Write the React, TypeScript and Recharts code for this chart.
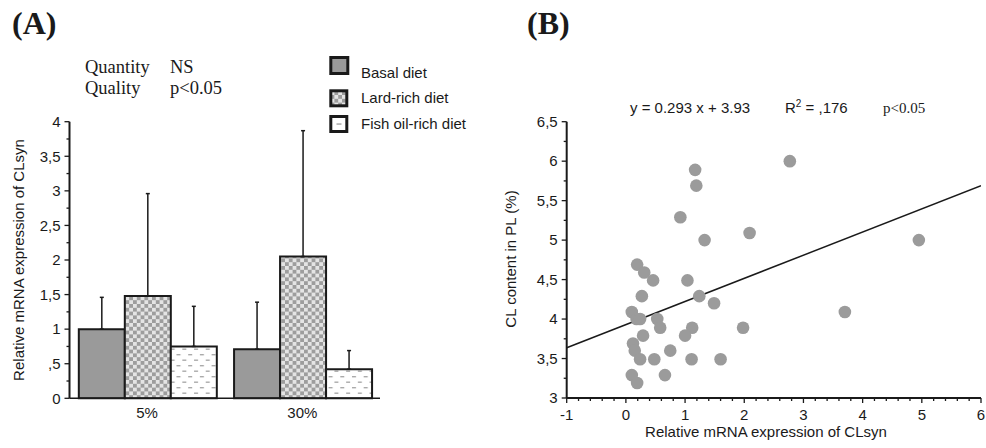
import React from "react";
import {
  BarChart,
  Bar,
  XAxis,
  YAxis,
  ErrorBar,
  ScatterChart,
  Scatter,
} from "recharts";

// ---------- Panel A data ----------
const categories = ["5%", "30%"];
const basalMean = [1.0, 0.71];
const basalSD = [0.46, 0.68];
const lardMean = [1.48, 2.05];
const lardSD = [1.48, 1.82];
const fishMean = [0.75, 0.42];
const fishSD = [0.58, 0.27];

const barMajorTicks = [0, 0.5, 1, 1.5, 2, 2.5, 3, 3.5, 4];
const barMajorLabels = ["0", ",5", "1", "1,5", "2", "2,5", "3", "3,5", "4"];
const barMinorTicks = [0.25, 0.75, 1.25, 1.75, 2.25, 2.75, 3.25, 3.75];

const legendLabels = ["Basal diet", "Lard-rich diet", "Fish oil-rich diet"];

// ---------- Panel B data ----------
const scatterX = [
  2.77, 1.17, 1.19, 0.92, 1.33, 2.09, 0.19, 0.31, 0.46, 1.04, 0.27, 1.24,
  1.49, 0.1, 0.18, 0.24, 0.53, 0.58, 1.12, 1.0, 1.98, 0.29, 0.12, 0.15, 0.24,
  0.48, 0.75, 1.11, 1.6, 0.1, 0.19, 0.66, 3.7, 4.95,
];
const scatterY = [
  6.0, 5.89, 5.69, 5.29, 5.0, 5.09, 4.69, 4.59, 4.49, 4.49, 4.29, 4.29, 4.2,
  4.09, 4.0, 4.0, 4.0, 3.89, 3.89, 3.79, 3.89, 3.79, 3.69, 3.6, 3.49, 3.49,
  3.6, 3.49, 3.49, 3.29, 3.19, 3.29, 4.09, 5.0,
];
const slope = 0.293;
const intercept = 3.93;

const xMajorTicks = [-1, 0, 1, 2, 3, 4, 5, 6];
const xMajorLabels = ["-1", "0", "1", "2", "3", "4", "5", "6"];
const xMinorTicks = [
  -0.8, -0.6, -0.4, -0.2, 0.2, 0.4, 0.6, 0.8, 1.2, 1.4, 1.6, 1.8, 2.2, 2.4,
  2.6, 2.8, 3.2, 3.4, 3.6, 3.8, 4.2, 4.4, 4.6, 4.8, 5.2, 5.4, 5.6, 5.8,
];
const yMajorTicks = [3, 3.5, 4, 4.5, 5, 5.5, 6, 6.5];
const yMajorLabels = ["3", "3,5", "4", "4,5", "5", "5,5", "6", "6,5"];
const yMinorTicks = [3.25, 3.75, 4.25, 4.75, 5.25, 5.75, 6.25];

// ---------- styling ----------
const SANS = "'Liberation Sans', Arial, sans-serif";
const SERIF = "'Liberation Serif', 'Times New Roman', serif";
const INK = "#1a1a1a";

const barData = categories.map((c, i) => ({
  cat: c,
  basal: basalMean[i],
  basalErr: [0, basalSD[i]],
  lard: lardMean[i],
  lardErr: [0, lardSD[i]],
  fish: fishMean[i],
  fishErr: [0, fishSD[i]],
}));

const scatterData = scatterX.map((x, i) => ({ x, y: scatterY[i] }));
const lineData = [
  { x: -1, y: intercept + slope * -1 },
  { x: 6, y: intercept + slope * 6 },
];

const makeYTick =
  (majors: number[], labels: string[], majorLen: number, minorLen: number) =>
  (props: any) => {
    const { x, y, payload } = props;
    const i = majors.indexOf(payload.value);
    const major = i >= 0;
    return (
      <g>
        <line
          x1={x}
          x2={x - (major ? majorLen : minorLen)}
          y1={y}
          y2={y}
          stroke={INK}
          strokeWidth={1.3}
        />
        {major && (
          <text
            x={x - majorLen - 4}
            y={y}
            dy="0.35em"
            textAnchor="end"
            fontSize={15}
            fontFamily={SANS}
            fill={INK}
          >
            {labels[i]}
          </text>
        )}
      </g>
    );
  };

const makeXTick =
  (majors: number[], labels: string[], majorLen: number, minorLen: number) =>
  (props: any) => {
    const { x, y, payload } = props;
    const i = majors.indexOf(payload.value);
    const major = i >= 0;
    return (
      <g>
        <line
          x1={x}
          x2={x}
          y1={y}
          y2={y + (major ? majorLen : minorLen)}
          stroke={INK}
          strokeWidth={1.3}
        />
        {major && (
          <text
            x={x}
            y={y + 22}
            textAnchor="middle"
            fontSize={15}
            fontFamily={SANS}
            fill={INK}
          >
            {labels[i]}
          </text>
        )}
      </g>
    );
  };

const CatTick = (props: any) => {
  const { x, y, payload } = props;
  return (
    <text
      x={x}
      y={y + 20}
      textAnchor="middle"
      fontSize={15}
      fontFamily={SANS}
      fill={INK}
    >
      {payload.value}
    </text>
  );
};

const Dot = (p: any) => <circle cx={p.cx} cy={p.cy} r={6.3} fill="#9b9b9b" />;
const NoDot = () => <g />;

const Patterns = () => (
  <svg width={0} height={0} style={{ position: "absolute" }}>
    <defs>
      <pattern id="checker" width={7.6} height={7.6} patternUnits="userSpaceOnUse">
        <rect width={7.6} height={7.6} fill="#e4e4e4" />
        <rect x={0} y={0} width={3.8} height={3.8} fill="#9d9d9d" />
        <rect x={3.8} y={3.8} width={3.8} height={3.8} fill="#9d9d9d" />
      </pattern>
      <pattern id="dashes" width={11.7} height={11} patternUnits="userSpaceOnUse">
        <rect width={11.7} height={11} fill="#ffffff" />
        <rect x={1} y={2} width={4} height={1.4} fill="#aaaaaa" />
        <rect x={6.85} y={7.5} width={4} height={1.4} fill="#aaaaaa" />
      </pattern>
    </defs>
  </svg>
);

export default function App() {
  return (
    <div
      style={{
        position: "absolute",
        left: 0,
        top: 0,
        width: 986,
        height: 448,
        background: "#ffffff",
        overflow: "hidden",
      }}
    >
      <Patterns />
      {/* Panel A */}
      <div style={{ position: "absolute", left: 0, top: 0 }}>
        <BarChart
          width={400}
          height={448}
          data={barData}
          margin={{ top: 121.7, right: 20, bottom: 19.7, left: 0 }}
          barGap={0}
          barCategoryGap="6%"
        >
          <XAxis
            dataKey="cat"
            height={30}
            tickLine={false}
            tickSize={0}
            tickMargin={0}
            tick={<CatTick />}
            axisLine={{ stroke: INK, strokeWidth: 1.6 }}
          />
          <YAxis
            type="number"
            domain={[0, 4]}
            width={69.5}
            ticks={[...barMajorTicks, ...barMinorTicks].sort((a, b) => a - b)}
            interval={0}
            tickLine={false}
            tickSize={0}
            tickMargin={0}
            tick={makeYTick(barMajorTicks, barMajorLabels, 5, 3)}
            axisLine={{ stroke: INK, strokeWidth: 2 }}
          />
          <Bar dataKey="basal" fill="#9a9a9a" stroke={INK} strokeWidth={2} isAnimationActive={false}>
            <ErrorBar dataKey="basalErr" width={2} stroke={INK} strokeWidth={1.5} direction="y" />
          </Bar>
          <Bar dataKey="lard" fill="url(#checker)" stroke={INK} strokeWidth={2} isAnimationActive={false}>
            <ErrorBar dataKey="lardErr" width={2} stroke={INK} strokeWidth={1.5} direction="y" />
          </Bar>
          <Bar dataKey="fish" fill="url(#dashes)" stroke={INK} strokeWidth={2} isAnimationActive={false}>
            <ErrorBar dataKey="fishErr" width={2} stroke={INK} strokeWidth={1.5} direction="y" />
          </Bar>
        </BarChart>
      </div>

      {/* Panel B */}
      <div style={{ position: "absolute", left: 480, top: 0 }}>
        <ScatterChart
          width={506}
          height={448}
          margin={{ top: 121.7, right: 5, bottom: 20, left: 0 }}
        >
          <XAxis
            type="number"
            dataKey="x"
            domain={[-1, 6]}
            height={30}
            ticks={[...xMajorTicks, ...xMinorTicks].sort((a, b) => a - b)}
            interval={0}
            tickLine={false}
            tickSize={0}
            tickMargin={0}
            tick={makeXTick(xMajorTicks, xMajorLabels, 5, 3)}
            axisLine={{ stroke: INK, strokeWidth: 2 }}
            allowDataOverflow
          />
          <YAxis
            type="number"
            dataKey="y"
            domain={[3, 6.5]}
            width={86.7}
            ticks={[...yMajorTicks, ...yMinorTicks].sort((a, b) => a - b)}
            interval={0}
            tickLine={false}
            tickSize={0}
            tickMargin={0}
            tick={makeYTick(yMajorTicks, yMajorLabels, 5, 3)}
            axisLine={{ stroke: INK, strokeWidth: 2 }}
            allowDataOverflow
          />
          <Scatter
            data={lineData}
            line={{ stroke: INK, strokeWidth: 1.5 }}
            shape={<NoDot />}
            isAnimationActive={false}
          />
          <Scatter data={scatterData} shape={<Dot />} isAnimationActive={false} />
        </ScatterChart>
      </div>

      {/* Text overlay */}
      <svg
        width={986}
        height={448}
        style={{ position: "absolute", left: 0, top: 0, pointerEvents: "none" }}
      >
        <text x={12} y={34} fontFamily={SERIF} fontWeight="bold" fontSize={32} fill={INK}>
          (A)
        </text>
        <text x={527} y={34} fontFamily={SERIF} fontWeight="bold" fontSize={32} fill={INK}>
          (B)
        </text>

        <text x={85} y={73} fontFamily={SERIF} fontSize={18.5} fill={INK}>Quantity</text>
        <text x={170} y={73} fontFamily={SERIF} fontSize={18.5} fill={INK}>NS</text>
        <text x={85} y={94} fontFamily={SERIF} fontSize={18.5} fill={INK}>Quality</text>
        <text x={170} y={94} fontFamily={SERIF} fontSize={18.5} fill={INK}>p&lt;0.05</text>

        {/* legend */}
        <rect x={330.8} y={57.5} width={17} height={16} fill="#9a9a9a" stroke={INK} strokeWidth={3} />
        <text x={361} y={78.3} fontFamily={SANS} fontSize={15} fill={INK}>{legendLabels[0]}</text>
        <rect x={330.8} y={90.8} width={16} height={15} fill="url(#checker)" stroke={INK} strokeWidth={3} />
        <text x={361} y={103.3} fontFamily={SANS} fontSize={15} fill={INK}>{legendLabels[1]}</text>
        <rect x={330.8} y={116.5} width={16} height={15} fill="#ffffff" stroke={INK} strokeWidth={3} />
        <rect x={336.5} y={123.3} width={5} height={1.5} fill="#aaaaaa" />
        <text x={361} y={129.3} fontFamily={SANS} fontSize={15} fill={INK}>{legendLabels[2]}</text>

        {/* axis titles */}
        <text
          transform="translate(23.5,260) rotate(-90)"
          textAnchor="middle"
          fontFamily={SANS}
          fontSize={15}
          fill={INK}
        >
          Relative mRNA expression of CLsyn
        </text>
        <text
          transform="translate(516,259) rotate(-90)"
          textAnchor="middle"
          fontFamily={SANS}
          fontSize={15}
          fill={INK}
        >
          CL content in PL (%)
        </text>
        <text x={766} y={436.7} textAnchor="middle" fontFamily={SANS} fontSize={15} fill={INK}>
          Relative mRNA expression of CLsyn
        </text>

        {/* regression annotation */}
        <text x={630} y={113} fontFamily={SANS} fontSize={15} fill={INK}>
          y = 0.293 x + 3.93
        </text>
        <text x={785} y={113} fontFamily={SANS} fontSize={15} fill={INK}>
          R
          <tspan dy={-6} fontSize={10}>2</tspan>
          <tspan dy={6}> = ,176</tspan>
        </text>
        <text x={883} y={113} fontFamily={SERIF} fontSize={15} fill={INK}>
          p&lt;0.05
        </text>
      </svg>
    </div>
  );
}
